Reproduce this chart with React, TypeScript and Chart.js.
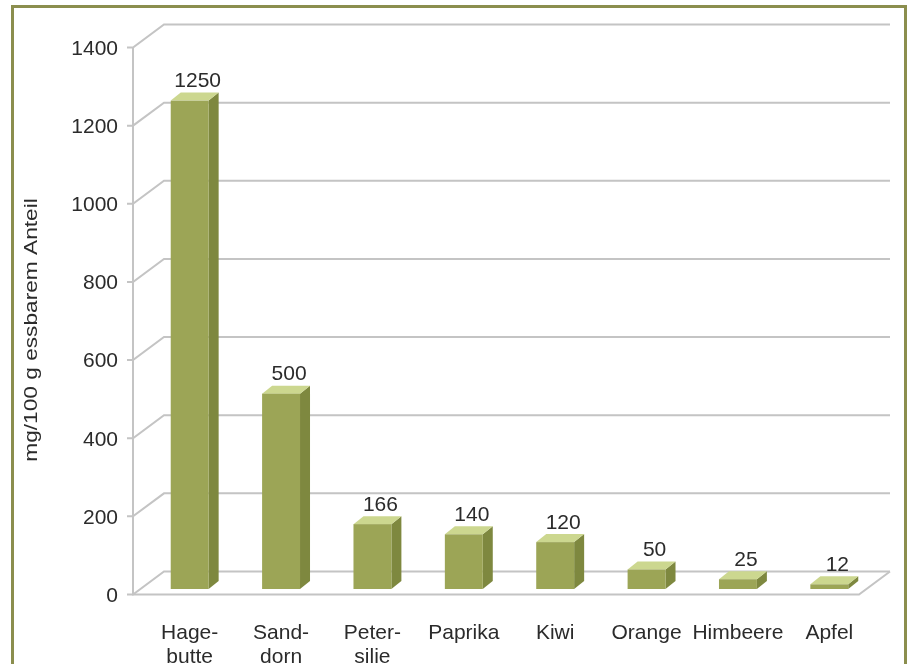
import React, { useEffect, useRef } from "react";
import { Chart, registerables } from "chart.js";

Chart.register(...registerables);

// ---- data ----
const categories: (string | string[])[] = [
  ["Hage-", "butte"],
  ["Sand-", "dorn"],
  ["Peter-", "silie"],
  "Paprika",
  "Kiwi",
  "Orange",
  "Himbeere",
  "Apfel",
];
const values: number[] = [1250, 500, 166, 140, 120, 50, 25, 12];
const yMin = 0;
const yMax = 1400;
const yStep = 200;
const yTitle = "mg/100 g essbarem Anteil";

// ---- styles ----
const FONT = "'Liberation Sans', Arial, sans-serif";
const TEXT = "#2b2b2b";
const GRID = "#c4c4c4";
const BORDER = "#8b8e4e";
const FRONT = "#9ca556";
const SIDE = "#7e883f";
const TOP = "#ccd78f";
const BOX_DX = 31;
const BOX_DY = -23;
const BAR_DX = 10;
const BAR_DY = -8;
const BAR_SHIFT_Y = -7;

const box3d = {
  id: "box3d",
  beforeDraw(chart: any) {
    const ctx = chart.ctx;
    ctx.save();
    ctx.fillStyle = "#ffffff";
    ctx.fillRect(0, 0, chart.width, chart.height);
    ctx.strokeStyle = BORDER;
    ctx.lineWidth = 3;
    ctx.strokeRect(12.5, 6.5, 893, 720);
    // axis title
    ctx.translate(32, 330);
    ctx.rotate(-Math.PI / 2);
    ctx.scale(1.26, 1);
    ctx.font = `18px ${FONT}`;
    ctx.fillStyle = TEXT;
    ctx.textAlign = "center";
    ctx.textBaseline = "middle";
    ctx.fillText(yTitle, 0, 0);
    ctx.restore();
  },
  beforeDatasetsDraw(chart: any) {
    const { ctx, chartArea } = chart;
    const y = chart.scales.y;
    const fl = chartArea.left - 11;
    const fr = chartArea.right - 16;
    ctx.save();
    ctx.strokeStyle = GRID;
    ctx.lineWidth = 2;
    ctx.lineJoin = "miter";
    y.ticks.forEach((t: any) => {
      const yy = y.getPixelForValue(t.value) - 1.5;
      ctx.beginPath();
      ctx.moveTo(fl - 6, yy);
      ctx.lineTo(fl, yy);
      ctx.lineTo(fl + BOX_DX, yy + BOX_DY);
      ctx.lineTo(fr + BOX_DX, yy + BOX_DY);
      ctx.stroke();
    });
    const y0 = y.getPixelForValue(yMin) - 1.5;
    const yTop = y.getPixelForValue(yMax) - 1.5;
    ctx.beginPath();
    ctx.moveTo(fl, yTop);
    ctx.lineTo(fl, y0);
    ctx.lineTo(fr, y0);
    ctx.lineTo(fr + BOX_DX, y0 + BOX_DY);
    ctx.stroke();
    ctx.restore();
  },
  afterDatasetsDraw(chart: any) {
    const { ctx } = chart;
    const meta = chart.getDatasetMeta(0);
    ctx.save();
    meta.data.forEach((el: any, i: number) => {
      const p = el.getProps(["x", "y", "base", "width"], true);
      const l = p.x - p.width / 2;
      const r = p.x + p.width / 2;
      const t = p.y + BAR_SHIFT_Y;
      const b = p.base + BAR_SHIFT_Y;
      // side
      ctx.fillStyle = SIDE;
      ctx.beginPath();
      ctx.moveTo(r, t);
      ctx.lineTo(r + BAR_DX, t + BAR_DY);
      ctx.lineTo(r + BAR_DX, b + BAR_DY);
      ctx.lineTo(r, b);
      ctx.closePath();
      ctx.fill();
      // top
      ctx.fillStyle = TOP;
      ctx.beginPath();
      ctx.moveTo(l, t);
      ctx.lineTo(l + BAR_DX, t + BAR_DY);
      ctx.lineTo(r + BAR_DX, t + BAR_DY);
      ctx.lineTo(r, t);
      ctx.closePath();
      ctx.fill();
      // front
      ctx.fillStyle = FRONT;
      ctx.fillRect(l, t, r - l, b - t);
      // label
      ctx.fillStyle = TEXT;
      ctx.font = `21px ${FONT}`;
      ctx.textAlign = "center";
      ctx.textBaseline = "middle";
      ctx.fillText(String(values[i]), p.x + 8, t + BAR_DY - 11);
    });
    ctx.restore();
  },
};

export default function App() {
  const ref = useRef<HTMLCanvasElement | null>(null);
  useEffect(() => {
    if (!ref.current) return;
    const chart = new Chart(ref.current, {
      type: "bar",
      data: {
        labels: categories,
        datasets: [
          {
            data: values,
            backgroundColor: "rgba(0,0,0,0)",
            borderWidth: 0,
            categoryPercentage: 1,
            barPercentage: 0.415,
          },
        ],
      },
      options: {
        animation: false,
        responsive: false,
        devicePixelRatio: 1,
        layout: { padding: { top: 49, left: 44, right: 33, bottom: 0 } },
        plugins: { legend: { display: false }, tooltip: { enabled: false } },
        scales: {
          x: {
            grid: { display: false, drawTicks: false },
            border: { display: false },
            ticks: {
              color: TEXT,
              font: { family: FONT, size: 21, lineHeight: 1.15 },
              padding: 25,
              maxRotation: 0,
              autoSkip: false,
            },
            afterFit: (s: any) => {
              s.height = 68;
            },
          },
          y: {
            min: yMin,
            max: yMax,
            grid: { display: false, drawTicks: false },
            border: { display: false },
            ticks: {
              stepSize: yStep,
              color: TEXT,
              font: { family: FONT, size: 21 },
              padding: 26,
              callback: (v: any) => String(v),
            },
            afterFit: (s: any) => {
              s.width = 100;
            },
          },
        },
      },
      plugins: [box3d],
    });
    return () => chart.destroy();
  }, []);
  return (
    <div style={{ position: "absolute", left: 0, top: 0, width: 908, height: 664 }}>
      <canvas ref={ref} width={908} height={664} style={{ display: "block" }} />
    </div>
  );
}
